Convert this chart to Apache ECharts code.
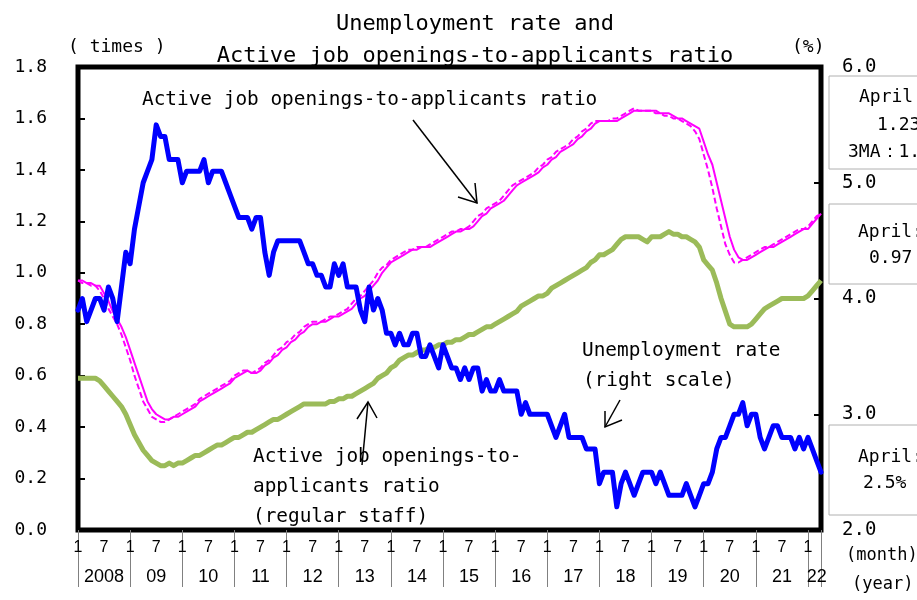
<!DOCTYPE html>
<html>
<head>
<meta charset="utf-8">
<script src="https://cdn.jsdelivr.net/npm/echarts@6/dist/echarts.min.js"></script>
<style>html,body{margin:0;padding:0;background:#fff;}#c{width:917px;height:600px;}</style>
</head>
<body>
<div id="c"></div>
<script>
// ---- categories: monthly, Jan 2008 .. Apr 2022 ----
const firstYear = 2008, lastYear = 2022, lastMonth = 4;
const categories = [];
for (let y = firstYear; y <= lastYear; y++) {
  for (let m = 1; m <= 12; m++) {
    if (y === lastYear && m > lastMonth) break;
    categories.push(y + '-' + m);
  }
}

// ---- Active job openings-to-applicants ratio (solid, times) ----
const jobRatio = [
  0.97,0.97,0.96,0.96,0.95,0.95,0.92,0.89,0.85,0.82,0.79,0.75,
  0.70,0.65,0.60,0.55,0.50,0.47,0.45,0.44,0.43,0.43,0.44,0.44,
  0.45,0.46,0.47,0.48,0.50,0.51,0.52,0.53,0.54,0.55,0.56,0.57,
  0.59,0.60,0.61,0.62,0.61,0.61,0.62,0.64,0.65,0.67,0.68,0.70,
  0.71,0.73,0.74,0.76,0.77,0.79,0.80,0.80,0.81,0.81,0.82,0.83,
  0.83,0.84,0.85,0.86,0.88,0.90,0.91,0.93,0.95,0.97,1.00,1.02,
  1.04,1.05,1.06,1.07,1.08,1.09,1.09,1.10,1.10,1.10,1.11,1.12,
  1.13,1.14,1.15,1.16,1.16,1.17,1.17,1.18,1.20,1.22,1.23,1.25,
  1.26,1.27,1.28,1.30,1.32,1.34,1.35,1.36,1.37,1.38,1.39,1.41,
  1.42,1.44,1.45,1.47,1.48,1.49,1.50,1.52,1.53,1.55,1.56,1.58,
  1.59,1.59,1.59,1.59,1.59,1.60,1.61,1.62,1.63,1.63,1.63,1.63,
  1.63,1.63,1.62,1.62,1.62,1.61,1.60,1.60,1.59,1.58,1.57,1.56,
  1.51,1.46,1.42,1.35,1.28,1.21,1.14,1.09,1.06,1.05,1.05,1.06,
  1.07,1.08,1.09,1.10,1.10,1.11,1.12,1.13,1.14,1.15,1.16,1.17,
  1.17,1.19,1.21,1.23
];

// ---- same ratio, dashed companion line (times) ----
const jobRatioDashed = [
  0.97,0.96,0.96,0.95,0.95,0.93,0.90,0.86,0.83,0.80,0.76,0.71,
  0.66,0.60,0.55,0.50,0.47,0.44,0.43,0.42,0.42,0.43,0.44,0.45,
  0.46,0.47,0.48,0.49,0.51,0.52,0.53,0.54,0.55,0.56,0.57,0.58,
  0.60,0.61,0.62,0.62,0.61,0.62,0.63,0.65,0.66,0.68,0.70,0.71,
  0.73,0.74,0.76,0.77,0.79,0.80,0.81,0.81,0.81,0.82,0.83,0.83,
  0.84,0.85,0.86,0.88,0.90,0.91,0.93,0.95,0.97,1.00,1.02,1.03,
  1.05,1.06,1.07,1.08,1.09,1.09,1.10,1.10,1.10,1.11,1.12,1.13,
  1.14,1.15,1.16,1.16,1.17,1.17,1.18,1.20,1.22,1.23,1.25,1.26,
  1.27,1.28,1.30,1.32,1.34,1.35,1.36,1.37,1.38,1.39,1.41,1.42,
  1.44,1.45,1.47,1.48,1.49,1.50,1.52,1.53,1.55,1.56,1.58,1.59,
  1.59,1.59,1.59,1.60,1.60,1.61,1.62,1.63,1.64,1.63,1.63,1.63,
  1.63,1.62,1.62,1.61,1.61,1.60,1.60,1.59,1.58,1.57,1.55,1.52,
  1.46,1.40,1.33,1.25,1.18,1.11,1.07,1.04,1.04,1.05,1.06,1.07,
  1.08,1.09,1.10,1.10,1.11,1.12,1.13,1.14,1.15,1.16,1.17,1.17,
  1.18,1.20,1.22,1.23
];

// ---- Active job openings-to-applicants ratio, regular staff (times) ----
const regularStaff = [
  0.59,0.59,0.59,0.59,0.59,0.58,0.56,0.54,0.52,0.50,0.48,0.45,
  0.41,0.37,0.34,0.31,0.29,0.27,0.26,0.25,0.25,0.26,0.25,0.26,
  0.26,0.27,0.28,0.29,0.29,0.30,0.31,0.32,0.33,0.33,0.34,0.35,
  0.36,0.36,0.37,0.38,0.38,0.39,0.40,0.41,0.42,0.43,0.43,0.44,
  0.45,0.46,0.47,0.48,0.49,0.49,0.49,0.49,0.49,0.49,0.50,0.50,
  0.51,0.51,0.52,0.52,0.53,0.54,0.55,0.56,0.57,0.59,0.60,0.61,
  0.63,0.64,0.66,0.67,0.68,0.68,0.69,0.70,0.70,0.71,0.71,0.72,
  0.72,0.73,0.73,0.74,0.74,0.75,0.76,0.76,0.77,0.78,0.79,0.79,
  0.80,0.81,0.82,0.83,0.84,0.85,0.87,0.88,0.89,0.90,0.91,0.91,
  0.92,0.94,0.95,0.96,0.97,0.98,0.99,1.00,1.01,1.02,1.04,1.05,
  1.07,1.07,1.08,1.09,1.11,1.13,1.14,1.14,1.14,1.14,1.13,1.12,
  1.14,1.14,1.14,1.15,1.16,1.15,1.15,1.14,1.14,1.13,1.12,1.10,
  1.05,1.03,1.01,0.96,0.90,0.85,0.80,0.79,0.79,0.79,0.79,0.80,
  0.82,0.84,0.86,0.87,0.88,0.89,0.90,0.90,0.90,0.90,0.90,0.90,
  0.91,0.93,0.95,0.97
];

// ---- Unemployment rate (%, right scale) ----
const unemployment = [
  3.9,4.0,3.8,3.9,4.0,4.0,3.9,4.1,4.0,3.8,4.1,4.4,
  4.3,4.6,4.8,5.0,5.1,5.2,5.5,5.4,5.4,5.2,5.2,5.2,
  5.0,5.1,5.1,5.1,5.1,5.2,5.0,5.1,5.1,5.1,5.0,4.9,
  4.8,4.7,4.7,4.7,4.6,4.7,4.7,4.4,4.2,4.4,4.5,4.5,
  4.5,4.5,4.5,4.5,4.4,4.3,4.3,4.2,4.2,4.1,4.1,4.3,
  4.2,4.3,4.1,4.1,4.1,3.9,3.8,4.1,3.9,4.0,3.9,3.7,
  3.7,3.6,3.7,3.6,3.6,3.7,3.7,3.5,3.5,3.6,3.5,3.4,
  3.6,3.5,3.4,3.4,3.3,3.4,3.3,3.4,3.4,3.2,3.3,3.2,
  3.2,3.3,3.2,3.2,3.2,3.2,3.0,3.1,3.0,3.0,3.0,3.0,
  3.0,2.9,2.8,2.9,3.0,2.8,2.8,2.8,2.8,2.7,2.7,2.7,
  2.4,2.5,2.5,2.5,2.2,2.4,2.5,2.4,2.3,2.4,2.5,2.5,
  2.5,2.4,2.5,2.4,2.3,2.3,2.3,2.3,2.4,2.3,2.2,2.3,
  2.4,2.4,2.5,2.7,2.8,2.8,2.9,3.0,3.0,3.1,2.9,3.0,
  3.0,2.8,2.7,2.8,2.9,2.9,2.8,2.8,2.8,2.7,2.8,2.7,
  2.8,2.7,2.6,2.5
];

// ---- tick settings ----
const leftTicks = { min: 0, max: 1.8, interval: 0.2 };
const rightTicks = { min: 2, max: 6, interval: 1 };

const MONO = "'DejaVu Sans Mono', monospace";
const SANS = "'Liberation Sans', Arial, sans-serif";

function monthOf(v) { return +String(v).split('-')[1]; }
function yearOf(v) { return +String(v).split('-')[0]; }

const chart = echarts.init(document.getElementById('c'), null, { renderer: 'canvas' });

function txt(text, x, y, size, align) {
  return { type: 'text', x: x, y: y, z: 50,
    style: { text: text, fontFamily: MONO, fontSize: size, fill: '#000',
             align: align || 'left', verticalAlign: 'middle' } };
}
function line(points, w) {
  return { type: 'polyline', z: 50, shape: { points: points },
    style: { stroke: '#000', lineWidth: w || 1.5, fill: null } };
}
function box(y, h) {
  return { type: 'rect', z: 40, shape: { x: 829, y: y, width: 120, height: h },
    style: { fill: '#fff', stroke: '#b0b0b0', lineWidth: 1 } };
}

const option = {
  animation: false,
  backgroundColor: '#fff',
  title: {
    text: 'Unemployment rate and\nActive job openings-to-applicants ratio',
    left: 470, top: 3, textAlign: 'center',
    textStyle: { fontFamily: MONO, fontSize: 22, fontWeight: 'normal', lineHeight: 32, color: '#000' }
  },
  grid: { left: 78, right: 96, top: 67, bottom: 70, show: true,
          borderColor: '#000', borderWidth: 5, backgroundColor: 'transparent' },
  xAxis: [
    {
      type: 'category', data: categories, boundaryGap: false, position: 'bottom',
      axisLine: { show: false },
      axisTick: { show: true, length: 57, inside: false,
        interval: function (i, v) { return monthOf(v) === 1 || i === categories.length - 1; },
        lineStyle: { color: '#808080', width: 1 } },
      axisLabel: { show: true, margin: 10, fontFamily: SANS, fontSize: 16, color: '#000',
        interval: function (i, v) { const m = monthOf(v); return m === 1 || m === 7; },
        formatter: function (v) { return String(monthOf(v)); } },
      splitLine: { show: false }
    },
    {
      type: 'category', data: categories, boundaryGap: false, position: 'bottom',
      axisLine: { show: false }, axisTick: { show: false }, splitLine: { show: false },
      axisLabel: { show: true, margin: 38, fontFamily: SANS, fontSize: 18, color: '#000',
        interval: function (i, v) {
          const y = yearOf(v), m = monthOf(v);
          return (y < lastYear && m === 7) || (y === lastYear && m === 3);
        },
        formatter: function (v) { const y = yearOf(v); return y === firstYear ? String(y) : String(y).slice(2); } }
    }
  ],
  yAxis: [
    {
      type: 'value', position: 'left', min: leftTicks.min, max: leftTicks.max, interval: leftTicks.interval,
      axisLine: { show: false },
      axisTick: { show: true, inside: true, length: 7, lineStyle: { color: '#000', width: 2 } },
      axisLabel: { margin: 31, fontFamily: MONO, fontSize: 18, color: '#000',
        formatter: function (v) { return v.toFixed(1); } },
      splitLine: { show: false }
    },
    {
      type: 'value', position: 'right', min: rightTicks.min, max: rightTicks.max, interval: rightTicks.interval,
      axisLine: { show: false },
      axisTick: { show: true, inside: true, length: 7, lineStyle: { color: '#000', width: 2 } },
      axisLabel: { margin: 21, fontFamily: MONO, fontSize: 19, color: '#000',
        formatter: function (v) { return v.toFixed(1); } },
      splitLine: { show: false }
    }
  ],
  series: [
    { name: 'Active job openings-to-applicants ratio (dashed)', type: 'line', data: jobRatioDashed,
      xAxisIndex: 0, yAxisIndex: 0, symbol: 'none', z: 2,
      lineStyle: { color: '#FF00FF', width: 2, type: [6, 3] } },
    { name: 'Active job openings-to-applicants ratio', type: 'line', data: jobRatio,
      xAxisIndex: 0, yAxisIndex: 0, symbol: 'none', z: 3,
      lineStyle: { color: '#FF00FF', width: 2 } },
    { name: 'Active job openings-to-applicants ratio (regular staff)', type: 'line', data: regularStaff,
      xAxisIndex: 0, yAxisIndex: 0, symbol: 'none', z: 4,
      lineStyle: { color: '#9BBB59', width: 5, join: 'round' } },
    { name: 'Unemployment rate', type: 'line', data: unemployment,
      xAxisIndex: 0, yAxisIndex: 1, symbol: 'none', z: 5,
      lineStyle: { color: '#0000FF', width: 5, join: 'round', cap: 'round' } }
  ],
  graphic: [
    txt('( times )', 68, 47, 18),
    txt('(%)', 792, 47, 18),
    txt('(month)', 846, 556, 17),
    txt('(year)', 852, 585, 17),
    txt('Active job openings-to-applicants ratio', 142, 100, 19.4),
    line([[413, 120], [477, 203]]),
    line([[458, 197], [477, 203], [475, 183]]),
    txt('Unemployment rate', 582, 351, 19.4),
    txt('(right scale)', 583, 381, 19.4),
    line([[620, 400], [605, 427]]),
    line([[605, 411], [605, 427], [622, 420]]),
    txt('Active job openings-to-', 253, 457, 19.4),
    txt('applicants ratio', 253, 487, 19.4),
    txt('(regular staff)', 253, 517, 19.4),
    line([[362, 465], [368, 402]]),
    line([[357, 419], [368, 402], [377, 418]]),
    box(76, 93),
    txt('April:', 859, 97, 18),
    txt('1.23', 877, 125, 18),
    txt('3MA：1.22', 848, 152, 18),
    box(204, 80),
    txt('April:', 858, 232, 18),
    txt('0.97', 869, 258, 18),
    box(425, 90),
    txt('April:', 858, 457, 18),
    txt('2.5%', 863, 483, 18)
  ]
};
chart.setOption(option);
</script>
</body>
</html>
